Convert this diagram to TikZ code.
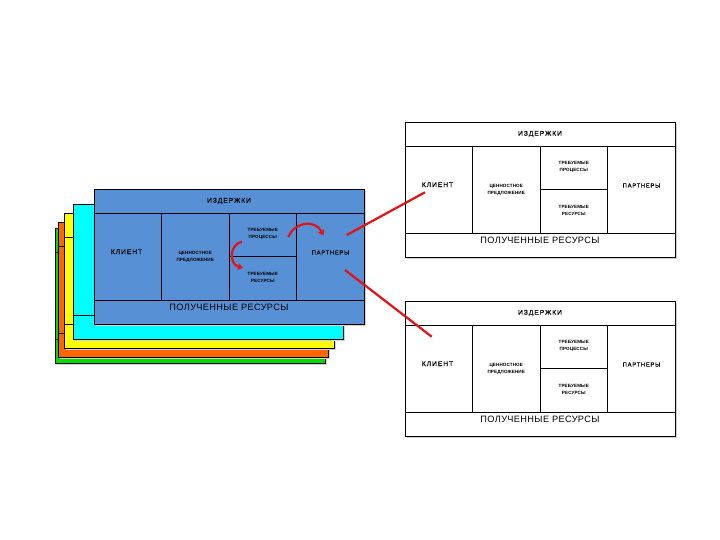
\documentclass[tikz,border=0pt]{standalone}
\usepackage{fontspec}
\setmainfont{Liberation Sans}
\newfontfamily\cardfont[LetterSpace=13,FakeBold=0.6]{Liberation Sans}
\newfontfamily\cardfontb[LetterSpace=4]{Liberation Sans}
\newfontfamily\cardsmall[LetterSpace=2]{Liberation Sans}
\usetikzlibrary{arrows.meta}

\definecolor{cardblue}{RGB}{88,144,214}
\definecolor{cardcyan}{RGB}{0,255,255}
\definecolor{cardyellow}{RGB}{255,255,0}
\definecolor{cardorange}{RGB}{255,102,0}
\definecolor{cardgreen}{RGB}{0,220,0}
\definecolor{arrowred}{RGB}{228,18,22}

\tikzset{
  cardline/.style={draw=black, line width=0.9pt},
  cardshadow/.style={fill=black!18, draw=none},
  tbig/.style={font=\cardfont\fontsize{6.8}{7}\selectfont, inner sep=0pt},
  tmid/.style={font=\cardfont\fontsize{5.8}{6}\selectfont, inner sep=0pt},
  tlarge/.style={font=\cardfontb\fontsize{9.2}{10}\selectfont, inner sep=0pt},
  tsmall/.style={font=\cardsmall\bfseries\fontsize{4.6}{7}\selectfont, inner sep=0pt, align=center},
  redline/.style={draw=arrowred, line width=2.2pt},
  redarrow/.style={draw=arrowred, line width=2.2pt, -{Triangle[length=5pt,width=6.5pt]}},
}

\newcommand{\cardframe}[4]{% x, y, fill, top line (1/0)
  \begin{scope}[shift={(#1,#2)}]
    \fill[cardshadow] (2,2) rectangle (272,137);
    \draw[cardline, fill=#3] (0,0) rectangle (270,135);
    \ifnum#4=1 \draw[cardline] (0,24) -- (270,24);\fi
    \draw[cardline] (0,111) -- (270,111);
    \draw[cardline] (67.5,24) -- (67.5,111) (135,24) -- (135,111)
      (202.5,24) -- (202.5,111) (135,67.5) -- (202.5,67.5);
  \end{scope}}

\newcommand{\cardtexts}[3]{% name, x, y
  \begin{scope}[shift={(#2,#3)}]
    \node[tbig] (#1-cost) at (135,12) {ИЗДЕРЖКИ};
    \node[tbig] (#1-client) at (32.5,62.7) {КЛИЕНТ};
    \node[tsmall] (#1-value) at (101.25,68.2) {ЦЕННОСТНОЕ\\ПРЕДЛОЖЕНИЕ};
    \node[tsmall] (#1-proc) at (168.75,45) {ТРЕБУЕМЫЕ\\ПРОЦЕССЫ};
    \node[tsmall] (#1-res) at (168.75,88.5) {ТРЕБУЕМЫЕ\\РЕСУРСЫ};
    \node[tmid] (#1-part) at (236.5,63.5) {ПАРТНЕРЫ};
    \node[tlarge] (#1-income) at (135,118.5) {ПОЛУЧЕННЫЕ РЕСУРСЫ};
  \end{scope}}

\begin{document}
\begin{tikzpicture}[x=1pt,y=-1pt]
  \useasboundingbox (0,0) rectangle (720,540);

  % stacked cards
  \cardframe{55}{228}{cardgreen}{1}
  \cardframe{58}{222}{cardorange}{1}
  \cardframe{64}{213}{cardyellow}{1}
  \cardframe{73}{204}{cardcyan}{0}
  \cardframe{94}{189}{cardblue}{1}
  \cardtexts{main}{94}{189}

  % right cards
  \cardframe{405}{122}{white}{1}
  \cardtexts{top}{405}{122}
  \cardframe{405}{301}{white}{1}
  \cardtexts{bot}{405}{301}

  % connector anchors
  \coordinate (m1) at (346.7,235);
  \coordinate (m2) at (345,270);
  \coordinate (t1) at (425,192.3);
  \coordinate (b1) at (431.7,336.7);
  \coordinate (a1s) at (288.5,237);
  \coordinate (a1e) at (323.5,235.5);
  \coordinate (a2s) at (242,241.5);
  \coordinate (a2e) at (243,268);

  \draw[redline] (m1) -- (t1);
  \draw[redline] (m2) -- (b1);
  \draw[redarrow] (a1s) .. controls (294,222) and (315,219) .. (a1e);
  \draw[redarrow] (a2s) .. controls (229,245) and (229,264) .. (a2e);
\end{tikzpicture}
\end{document}
